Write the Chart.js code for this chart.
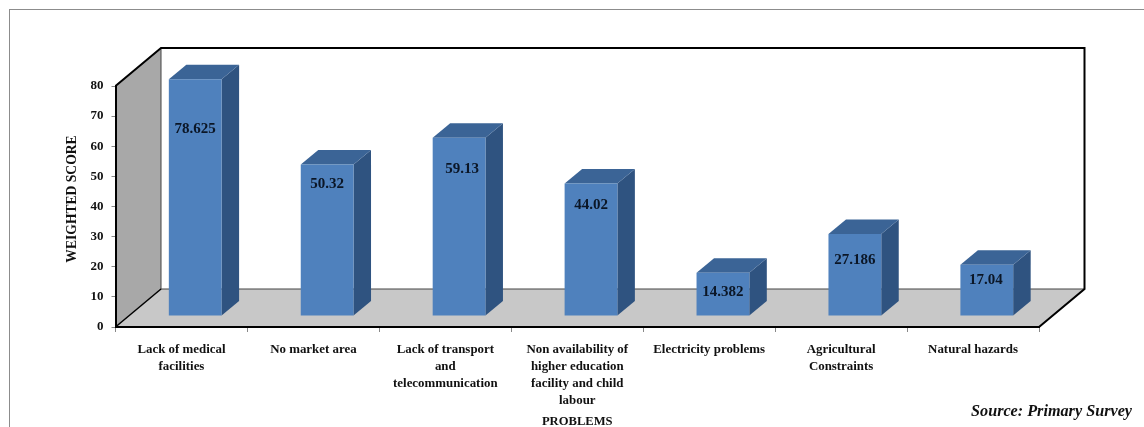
<!DOCTYPE html>
<html>
<head>
<meta charset="utf-8">
<title>Weighted score of problems</title>
<script src="https://cdn.jsdelivr.net/npm/chart.js@4"></script>
<style>
  html, body { margin: 0; padding: 0; background: #fff; overflow: hidden; }
  #wrap { position: relative; width: 1144px; height: 427px; }
  #frame { position: absolute; left: 9px; top: 9px; right: 0; bottom: 0; border-left: 1px solid #8c8c8c; border-top: 1px solid #8c8c8c; }
  #source { position: absolute; right: 12px; top: 402px; font: italic bold 16.2px "Liberation Serif", serif; color: #111; }
  canvas { position: absolute; left: 0; top: 0; }
</style>
</head>
<body>
<div id="wrap">
  <div id="frame"></div>
  <canvas id="chart" width="1144" height="427"></canvas>
  <div id="source">Source: Primary Survey</div>
</div>
<script>
const problems = [
  ['Lack of medical', 'facilities'],
  'No market area',
  ['Lack of transport', 'and', 'telecommunication'],
  ['Non availability of', 'higher education', 'facility and child', 'labour'],
  'Electricity problems',
  ['Agricultural', 'Constraints'],
  'Natural hazards'
];
const scores = [78.625, 50.32, 59.13, 44.02, 14.382, 27.186, 17.04];
// where each value label sits relative to the top centre of its bar
const labelDrop = [50, 20, 31, 22, 19, 26, 15];
const labelNudge = [0, 0, 3, 0, 0, 0, -1];

const serif = 'Liberation Serif';
const wallDepth = { x: 45.5, y: 38 };
const barShift = { x: 13.75, y: 11 };
const barDepth = { x: 17.5, y: 14.5 };

function poly(ctx, pts, fill) {
  ctx.beginPath();
  pts.forEach((p, i) => i ? ctx.lineTo(p[0], p[1]) : ctx.moveTo(p[0], p[1]));
  ctx.closePath();
  ctx.fillStyle = fill;
  ctx.fill();
}

function line(ctx, pts, color, width) {
  ctx.beginPath();
  pts.forEach((p, i) => i ? ctx.lineTo(p[0], p[1]) : ctx.moveTo(p[0], p[1]));
  ctx.strokeStyle = color;
  ctx.lineWidth = width;
  ctx.stroke();
}

const box3d = {
  id: 'box3d',
  // walls and floor go under the axes
  beforeDraw(chart) {
    const { ctx, chartArea: a } = chart;
    const dx = wallDepth.x, dy = wallDepth.y;
    ctx.save();
    poly(ctx, [[a.left, a.top], [a.left + dx, a.top - dy], [a.left + dx, a.bottom - dy], [a.left, a.bottom]], '#a8a8a8');
    poly(ctx, [[a.left, a.bottom], [a.left + dx, a.bottom - dy], [a.right + dx, a.bottom - dy], [a.right, a.bottom]], '#c8c8c8');
    line(ctx, [[a.left + dx, a.top - dy], [a.left + dx, a.bottom - dy], [a.right + dx, a.bottom - dy]], '#444', 1);
    line(ctx, [[a.left, a.top], [a.left + dx, a.top - dy], [a.right + dx, a.top - dy], [a.right + dx, a.bottom - dy], [a.right, a.bottom]], '#000', 2);
    line(ctx, [[a.left, a.bottom], [a.left + dx, a.bottom - dy]], '#000', 1.5);
    ctx.restore();
  },
  // top and side faces, then shift the library's own bars back into the box
  beforeDatasetDraw(chart, args) {
    const { ctx } = chart;
    const dx = barDepth.x, dy = barDepth.y;
    ctx.save();
    ctx.translate(barShift.x, -barShift.y);
    chart.getDatasetMeta(args.index).data.forEach(bar => {
      const l = bar.x - bar.width / 2, r = bar.x + bar.width / 2;
      poly(ctx, [[r, bar.y], [r + dx, bar.y - dy], [r + dx, bar.base - dy], [r, bar.base]], '#2f5380');
      poly(ctx, [[l, bar.y], [l + dx, bar.y - dy], [r + dx, bar.y - dy], [r, bar.y]], '#3b6496');
    });
  },
  afterDatasetDraw(chart) {
    chart.ctx.restore();
  },
  afterDatasetsDraw(chart) {
    const { ctx, chartArea: a } = chart;
    ctx.save();
    ctx.font = 'bold 15px "' + serif + '"';
    ctx.fillStyle = '#0b1626';
    ctx.textAlign = 'center';
    ctx.textBaseline = 'middle';
    chart.getDatasetMeta(0).data.forEach((bar, i) => {
      ctx.fillText(String(scores[i]), bar.x + barShift.x + labelNudge[i], bar.y - barShift.y + labelDrop[i]);
    });
    // axis title sits a little above the middle of the axis
    ctx.fillStyle = '#111';
    ctx.font = 'bold 13.6px "' + serif + '"';
    ctx.translate(72, (a.top + a.bottom) / 2 - 7.5);
    ctx.rotate(-Math.PI / 2);
    ctx.fillText('WEIGHTED SCORE', 0, 0);
    ctx.restore();
  }
};

new Chart(document.getElementById('chart').getContext('2d'), {
  type: 'bar',
  data: {
    labels: problems,
    datasets: [{
      label: 'Weighted score',
      data: scores,
      backgroundColor: '#4f81bd',
      borderWidth: 0,
      barPercentage: 0.4,
      categoryPercentage: 1,
      clip: false
    }]
  },
  options: {
    responsive: false,
    animation: false,
    layout: { padding: { left: 65, top: 86, right: 105, bottom: 0 } },
    plugins: { legend: { display: false }, tooltip: { enabled: false } },
    scales: {
      x: {
        afterFit(s) { s.height = 100; },
        border: { color: '#000', width: 2 },
        grid: { drawOnChartArea: false, tickLength: 5, tickColor: '#888' },
        ticks: {
          autoSkip: false,
          maxRotation: 0,
          padding: 9,
          color: '#111',
          font: { family: serif, weight: 'bold', size: 12.9, lineHeight: 1.32 }
        },
        title: {
          display: true,
          text: 'PROBLEMS',
          color: '#111',
          padding: { top: 0, bottom: -2 },
          font: { family: serif, weight: 'bold', size: 12.6 }
        }
      },
      y: {
        min: 0,
        max: 80,
        afterFit(s) { s.width = 50.5; },
        border: { color: '#000', width: 2 },
        grid: { drawOnChartArea: false, tickLength: 4, tickColor: '#888' },
        ticks: {
          stepSize: 10,
          padding: 8,
          color: '#111',
          font: { family: serif, weight: 'bold', size: 13 }
        }
      }
    }
  },
  plugins: [box3d]
});
</script>
</body>
</html>
